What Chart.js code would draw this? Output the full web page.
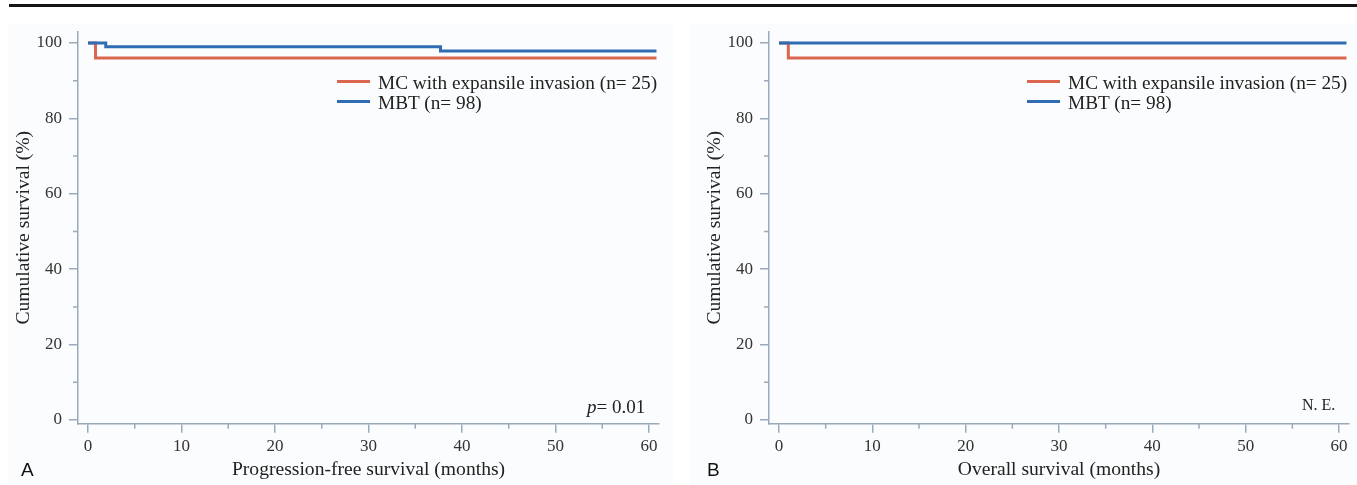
<!DOCTYPE html>
<html>
<head>
<meta charset="utf-8">
<script src="https://cdn.jsdelivr.net/npm/chart.js@4.4.1/dist/chart.umd.min.js"></script>
<style>
  body { margin: 0; background: #fff; font-family: "Liberation Serif", "Times New Roman", serif; }
  #page { position: relative; width: 1357px; height: 485px; overflow: hidden; }
  .rule { position: absolute; left: 9px; top: 4px; width: 1348px; height: 3px; background: #151515; }
  .panel { position: absolute; top: 24px; height: 461px; background: #fbfcfd; }
  canvas { position: absolute; top: 0; }
  .legend { position: absolute; font-size: 19.3px; line-height: 20px; color: #222; }
  .legend .row { display: flex; align-items: center; white-space: nowrap; height: 20px; }
  .legend .swatch { display: inline-block; width: 33px; height: 3px; margin-right: 8px; position: relative; top: -2px; }
  .note { position: absolute; color: #222; white-space: nowrap; line-height: 1; }
  .letter { position: absolute; font-family: "Liberation Sans", Arial, sans-serif; font-size: 19px; line-height: 1; color: #111; }
</style>
</head>
<body>
<div id="page">
  <div class="rule"></div>
  <div class="panel" style="left:8px; width:665px;"></div>
  <div class="panel" style="left:690px; width:667px;"></div>
  <canvas id="pfsChart" width="678" height="485" style="left:0"></canvas>
  <canvas id="osChart" width="678" height="485" style="left:679px"></canvas>
  <div class="legend" id="pfsLegend" style="left:337px; top:73px;"></div>
  <div class="legend" id="osLegend" style="left:1027px; top:73px;"></div>
  <div class="note" style="left:587px; top:397px; font-size:19px;"><i>p</i>= 0.01</div>
  <div class="note" style="left:1302px; top:397px; font-size:16px;">N. E.</div>
  <div class="letter" style="left:21px; top:460px;">A</div>
  <div class="letter" style="left:707px; top:460px;">B</div>
</div>
<script>
// tick values
const xTicks = [0, 10, 20, 30, 40, 50, 60];
const xMinor = [5, 15, 25, 35, 45, 55];
const yTicks = [0, 20, 40, 60, 80, 100];
const yMinor = [10, 30, 50, 70, 90];

// series
const seriesLabels = ['MC with expansile invasion (n= 25)', 'MBT (n= 98)'];
const seriesColors = ['#da6650', '#2f6cb3'];

const pfsMcMonths = [0, 0.8, 60.8];
const pfsMcSurvival = [100, 96, 96];
const pfsMbtMonths = [0, 1.9, 37.7, 60.8];
const pfsMbtSurvival = [100, 99, 97.9, 97.9];

const osMcMonths = [0, 1.0, 60.8];
const osMcSurvival = [100, 96, 96];
const osMbtMonths = [0, 60.8];
const osMbtSurvival = [100, 100];

const axisColor = '#9aaabb';
const serif = '"Liberation Serif", "Times New Roman", serif';

// short ticks at the in-between values
const minorTicks = {
    id: 'minorTicks',
    afterDraw(chart) {
        const c = chart.ctx;
        const area = chart.chartArea;
        c.save();
        c.strokeStyle = axisColor;
        c.lineWidth = 1.5;
        c.beginPath();
        xMinor.forEach(v => {
            const px = chart.scales.x.getPixelForValue(v);
            c.moveTo(px, area.bottom);
            c.lineTo(px, area.bottom + 5);
        });
        yMinor.forEach(v => {
            const py = chart.scales.y.getPixelForValue(v);
            c.moveTo(area.left, py);
            c.lineTo(area.left - 5, py);
        });
        c.stroke();
        c.restore();
    }
};

function points(xs, ys) {
    return xs.map((x, i) => ({ x: x, y: ys[i] }));
}

function makeChart(id, xTitle, mcX, mcY, mbtX, mbtY, padLeft, padRight) {
    const ctx = document.getElementById(id).getContext('2d');
    return new Chart(ctx, {
        type: 'line',
        data: {
            datasets: [
                {
                    label: seriesLabels[1],
                    data: points(mbtX, mbtY),
                    borderColor: seriesColors[1],
                    borderWidth: 3,
                    stepped: 'before',
                    pointRadius: 0,
                    fill: false
                },
                {
                    label: seriesLabels[0],
                    data: points(mcX, mcY),
                    borderColor: seriesColors[0],
                    borderWidth: 3,
                    stepped: 'before',
                    pointRadius: 0,
                    fill: false
                }
            ]
        },
        options: {
            responsive: false,
            animation: false,
            layout: { padding: { left: padLeft, right: padRight, top: 31.7, bottom: 0 } },
            plugins: { legend: { display: false }, tooltip: { enabled: false } },
            scales: {
                x: {
                    type: 'linear',
                    min: -1.07,
                    max: 61.07,
                    afterBuildTicks: s => { s.ticks = xTicks.map(v => ({ value: v })); },
                    afterFit: s => { s.height = 61.2; },
                    grid: { drawOnChartArea: false, tickLength: 9, color: axisColor, lineWidth: 1.5 },
                    border: { color: axisColor, width: 1.5 },
                    ticks: { color: '#333', font: { family: serif, size: 17 }, padding: 4, maxRotation: 0 },
                    title: { display: true, text: xTitle, color: '#222', font: { family: serif, size: 19.6 }, padding: { top: 0, bottom: 3 } }
                },
                y: {
                    type: 'linear',
                    min: -1,
                    max: 103,
                    afterBuildTicks: s => { s.ticks = yTicks.map(v => ({ value: v })); },
                    afterFit: s => { s.width = 70; },
                    grid: { drawOnChartArea: false, tickLength: 9, color: axisColor, lineWidth: 1.5 },
                    border: { color: axisColor, width: 1.5 },
                    ticks: { color: '#333', font: { family: serif, size: 17 }, padding: 7 },
                    title: { display: true, text: 'Cumulative survival (%)', color: '#222', font: { family: serif, size: 19.6 }, padding: { top: 4, bottom: 0 } }
                }
            }
        },
        plugins: [minorTicks]
    });
}

makeChart('pfsChart', 'Progression-free survival (months)', pfsMcMonths, pfsMcSurvival, pfsMbtMonths, pfsMbtSurvival, 8, 19);
makeChart('osChart', 'Overall survival (months)', osMcMonths, osMcSurvival, osMbtMonths, osMbtSurvival, 20, 8);

// legends
function buildLegend(id) {
    const box = document.getElementById(id);
    seriesLabels.forEach((label, i) => {
        const row = document.createElement('div');
        row.className = 'row';
        const sw = document.createElement('span');
        sw.className = 'swatch';
        sw.style.background = seriesColors[i];
        row.appendChild(sw);
        row.appendChild(document.createTextNode(label));
        box.appendChild(row);
    });
}
buildLegend('pfsLegend');
buildLegend('osLegend');
</script>
</body>
</html>
